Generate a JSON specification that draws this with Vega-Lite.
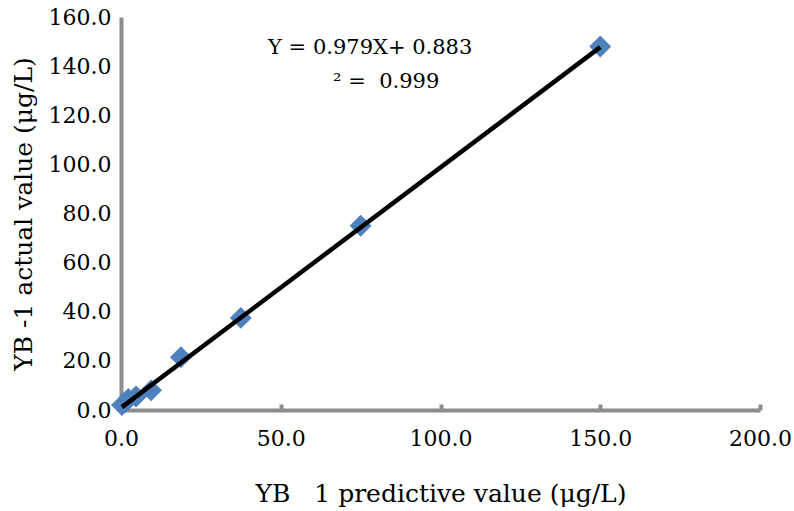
{
  "$schema": "https://vega.github.io/schema/vega-lite/v6.json",
  "width": 639,
  "height": 393,
  "autosize": {"type": "none"},
  "padding": {"left": 121, "top": 17, "right": 34, "bottom": 101},
  "background": "white",
  "config": {
    "view": {"stroke": null},
    "font": "DejaVu Serif"
  },
  "datasets": {
    "pts": [
      {"x": 0.3, "y": 2.0},
      {"x": 1.2, "y": 3.0},
      {"x": 2.3, "y": 4.5},
      {"x": 4.7, "y": 5.5},
      {"x": 9.4, "y": 8.0},
      {"x": 18.75, "y": 21.5},
      {"x": 37.5, "y": 37.5},
      {"x": 75, "y": 75},
      {"x": 150, "y": 148}
    ],
    "fit": [
      {"x": 0.3, "y": 1.17},
      {"x": 150, "y": 147.73}
    ],
    "notes": [
      {"x": 78, "y": 147.3, "t": "Y = 0.979X+ 0.883"},
      {"x": 83, "y": 133.5, "t": "\u00b2 =\u00a0 0.999"}
    ]
  },
  "layer": [
    {
      "data": {"name": "pts"},
      "mark": {"type": "point", "shape": "diamond", "filled": true, "color": "#4F81BD", "opacity": 1, "size": 480},
      "encoding": {
        "x": {
          "field": "x", "type": "quantitative",
          "scale": {"domain": [0, 200], "nice": false},
          "axis": {
            "title": "YB \u00a0 1 predictive value (\u03bcg/L)",
            "values": [0, 50, 100, 150, 200],
            "format": ".1f",
            "grid": false,
            "labelFlush": false,
            "labelOverlap": false,
            "domainColor": "#8C8C8C", "domainWidth": 4,
            "tickColor": "#8C8C8C", "tickWidth": 4, "tickSize": -6,
            "labelFont": "DejaVu Serif", "labelFontSize": 22, "labelColor": "black",
            "labelPadding": 24,
            "titleFont": "DejaVu Serif", "titleFontSize": 25, "titleFontWeight": "normal", "titleColor": "black",
            "titlePadding": 32
          }
        },
        "y": {
          "field": "y", "type": "quantitative",
          "scale": {"domain": [0, 160], "nice": false},
          "axis": {
            "title": "YB -1 actual value (\u03bcg/L)",
            "values": [0, 20, 40, 60, 80, 100, 120, 140, 160],
            "format": ".1f",
            "grid": false,
            "ticks": false,
            "labelFlush": false,
            "labelOverlap": false,
            "domainColor": "#8C8C8C", "domainWidth": 4,
            "labelFont": "DejaVu Serif", "labelFontSize": 22, "labelColor": "black",
            "labelPadding": 10,
            "titleFont": "DejaVu Serif", "titleFontSize": 25, "titleFontWeight": "normal", "titleColor": "black",
            "titlePadding": 12
          }
        }
      }
    },
    {
      "data": {"name": "fit"},
      "mark": {"type": "line", "color": "black", "strokeWidth": 4.5},
      "encoding": {
        "x": {"field": "x", "type": "quantitative"},
        "y": {"field": "y", "type": "quantitative"}
      }
    },
    {
      "data": {"name": "notes"},
      "mark": {"type": "text", "font": "DejaVu Serif", "fontSize": 21, "color": "black", "align": "center", "baseline": "middle"},
      "encoding": {
        "x": {"field": "x", "type": "quantitative"},
        "y": {"field": "y", "type": "quantitative"},
        "text": {"field": "t"}
      }
    }
  ]
}
